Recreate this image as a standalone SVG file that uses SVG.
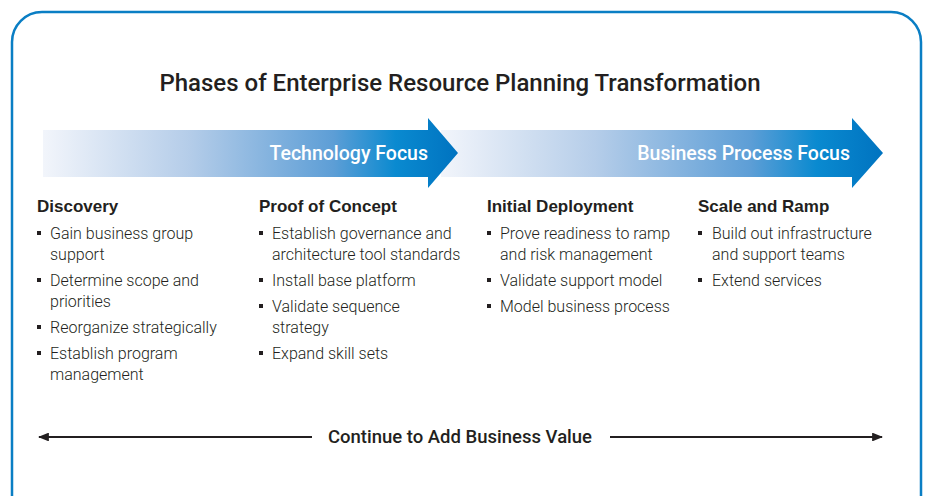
<svg xmlns="http://www.w3.org/2000/svg" width="927" height="496" viewBox="0 0 927 496">
<defs>
<linearGradient id="g1" x1="0" y1="0" x2="1" y2="0">
<stop offset="0" stop-color="#f2f5fb"/>
<stop offset="0.35" stop-color="#b5cde9"/>
<stop offset="0.7" stop-color="#5d9ed6"/>
<stop offset="0.85" stop-color="#0a8ad0"/>
<stop offset="1" stop-color="#0073c0"/>
</linearGradient>
<marker id="ah" viewBox="0 0 10 8" refX="9" refY="4" markerWidth="5" markerHeight="4" orient="auto-start-reverse" markerUnits="strokeWidth">
<path d="M0,0 L10,4 L0,8 z" fill="#231f20"/>
</marker>
<style>
.title{font-family:Roboto,"Liberation Sans",sans-serif;font-size:24px;font-weight:500;fill:#231f20;}
.band{font-family:Roboto,"Liberation Sans",sans-serif;font-size:19.5px;font-weight:500;fill:#fff;text-anchor:end;}
.head{font-family:"Liberation Sans",Arial,sans-serif;font-size:17px;font-weight:bold;fill:#231f20;}
.item{font-family:Roboto,"Liberation Sans",sans-serif;font-size:16px;font-weight:300;fill:#231f20;}
.bul{fill:#231f20;}
.foot{font-family:Roboto,"Liberation Sans",sans-serif;font-size:18.5px;font-weight:500;fill:#231f20;text-anchor:middle;}
.conn{stroke:#231f20;stroke-width:2.2;fill:none;}
</style>
</defs>
<rect x="12" y="12" width="909" height="520" rx="30" ry="30" fill="#fff" stroke="#0a7ec4" stroke-width="2.5"/>
<text class="title" x="460" y="91" text-anchor="middle">Phases of Enterprise Resource Planning Transformation</text>

<g id="business-focus">
<path d="M441,130 H852 V118 L883,153 L852,188 V177 H441 Z" fill="url(#g1)"/>
<text class="band" x="850" y="160">Business Process Focus</text>
</g>
<g id="tech-focus">
<path d="M43,130 H428 V118 L458,153 L428,188 V177 H43 Z" fill="url(#g1)"/>
<text class="band" x="428" y="160">Technology Focus</text>
</g>

<g id="discovery">
<text class="head" x="37" y="212">Discovery</text>
<rect class="bul" x="37" y="231" width="4" height="4"/>
<text class="item" x="50" y="239">Gain business group</text>
<text class="item" x="50" y="260">support</text>
<rect class="bul" x="37" y="278" width="4" height="4"/>
<text class="item" x="50" y="286">Determine scope and</text>
<text class="item" x="50" y="307">priorities</text>
<rect class="bul" x="37" y="325" width="4" height="4"/>
<text class="item" x="50" y="333">Reorganize strategically</text>
<rect class="bul" x="37" y="351" width="4" height="4"/>
<text class="item" x="50" y="359">Establish program</text>
<text class="item" x="50" y="380">management</text>
</g>

<g id="proof-of-concept">
<text class="head" x="259" y="212">Proof of Concept</text>
<rect class="bul" x="259" y="231" width="4" height="4"/>
<text class="item" x="272" y="239">Establish governance and</text>
<text class="item" x="272" y="260">architecture tool standards</text>
<rect class="bul" x="259" y="278" width="4" height="4"/>
<text class="item" x="272" y="286">Install base platform</text>
<rect class="bul" x="259" y="304" width="4" height="4"/>
<text class="item" x="272" y="312">Validate sequence</text>
<text class="item" x="272" y="333">strategy</text>
<rect class="bul" x="259" y="351" width="4" height="4"/>
<text class="item" x="272" y="359">Expand skill sets</text>
</g>

<g id="initial-deployment">
<text class="head" x="487" y="212">Initial Deployment</text>
<rect class="bul" x="487" y="231" width="4" height="4"/>
<text class="item" x="500" y="239">Prove readiness to ramp</text>
<text class="item" x="500" y="260">and risk management</text>
<rect class="bul" x="487" y="278" width="4" height="4"/>
<text class="item" x="500" y="286">Validate support model</text>
<rect class="bul" x="487" y="304" width="4" height="4"/>
<text class="item" x="500" y="312">Model business process</text>
</g>

<g id="scale-and-ramp">
<text class="head" x="698" y="212">Scale and Ramp</text>
<rect class="bul" x="698" y="231" width="4" height="4"/>
<text class="item" x="712" y="239">Build out infrastructure</text>
<text class="item" x="712" y="260">and support teams</text>
<rect class="bul" x="698" y="278" width="4" height="4"/>
<text class="item" x="712" y="286">Extend services</text>
</g>

<g id="connectors">
<line class="conn" x1="312" y1="437" x2="39" y2="437" marker-end="url(#ah)"/>
<line class="conn" x1="610" y1="437" x2="882" y2="437" marker-end="url(#ah)"/>
</g>
<text class="foot" x="460" y="443">Continue to Add Business Value</text>
</svg>
